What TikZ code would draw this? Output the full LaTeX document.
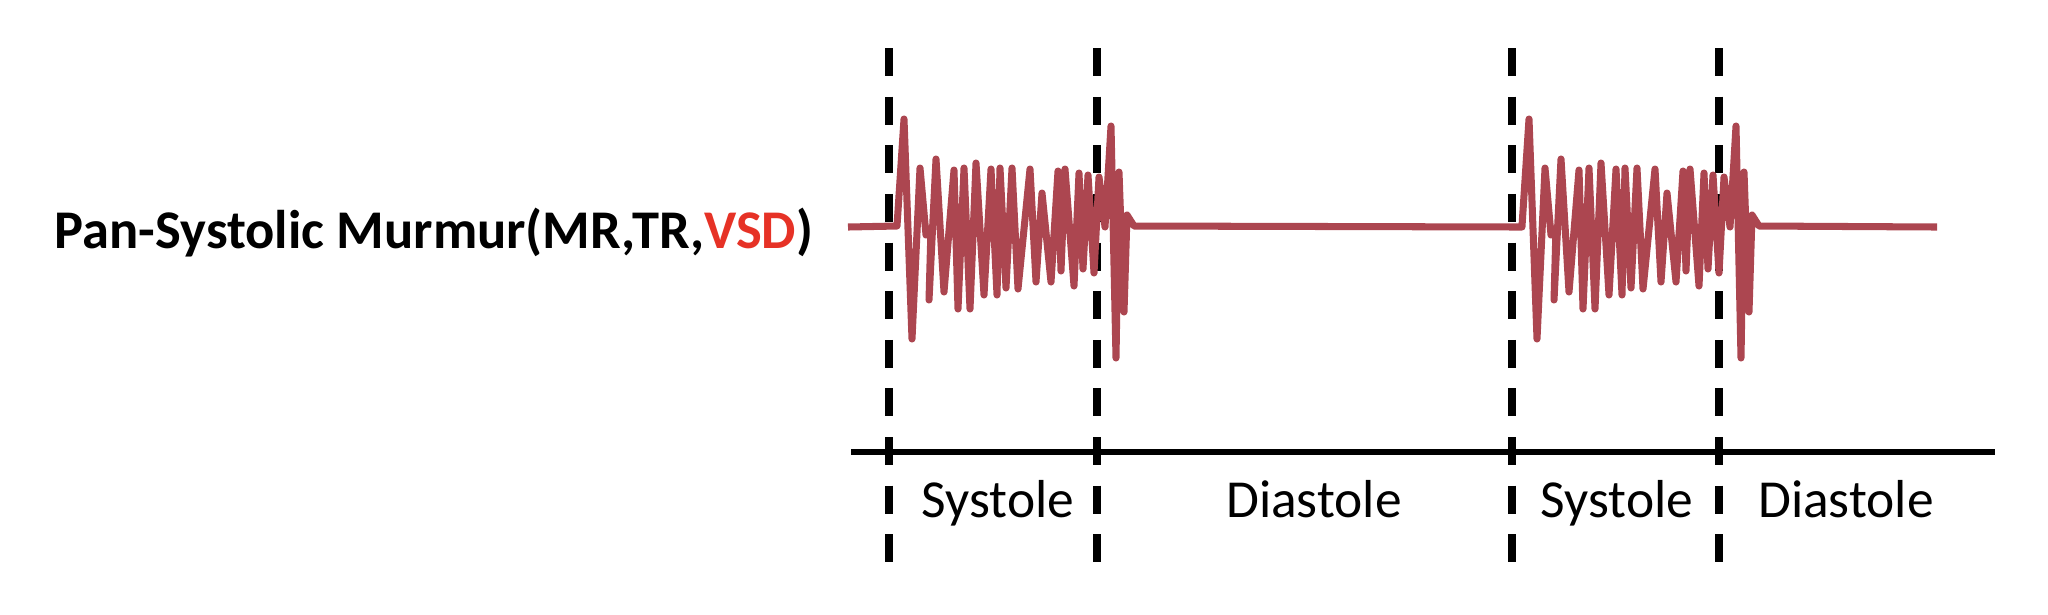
\documentclass[tikz,border=0pt]{standalone}
\usepackage{fontspec}
\setmainfont{Carlito}
\usepackage{xcolor}
\usepackage{tikz}
\usetikzlibrary{positioning}

\definecolor{murmurred}{RGB}{172,70,80}
\definecolor{vsdred}{RGB}{230,50,38}

\tikzset{
  phaseline/.style={line width=2.1pt, dash pattern=on 7.97pt off 5.86pt},
  timeaxis/.style={line width=1.6pt},
  murmur/.style={murmurred, line width=2pt, line join=round},
  lbl/.style={font=\fontsize{15.2}{18}\selectfont, inner sep=0pt, anchor=base}
}

% one systolic burst, #1 = horizontal offset in px
\newcommand{\murmurburst}[1]{%
  -- ({#1+897},226) -- ({#1+904},119) -- ({#1+912},339) -- ({#1+920},168)
  -- ({#1+926},235) -- ({#1+931},228) -- ({#1+929},300) -- ({#1+936},159)
  -- ({#1+944},292) -- ({#1+954},170) -- ({#1+958},309) -- ({#1+964},168)
  -- ({#1+970},309) -- ({#1+976},163) -- ({#1+984},295) -- ({#1+991},169)
  -- ({#1+997},295) -- ({#1+1000},168) -- ({#1+1006},288) -- ({#1+1012},168)
  -- ({#1+1018},289) -- ({#1+1030},169) -- ({#1+1036},282) -- ({#1+1042},193)
  -- ({#1+1051},282) -- ({#1+1058},171) -- ({#1+1061},271) -- ({#1+1065},169)
  -- ({#1+1074},286) -- ({#1+1079},173) -- ({#1+1083},269) -- ({#1+1088},175)
  -- ({#1+1094},273) -- ({#1+1099},177) -- ({#1+1105},227) -- ({#1+1111},126)
  -- ({#1+1116},358) -- ({#1+1119},172) -- ({#1+1124},312) -- ({#1+1127},215)
  -- ({#1+1134},226)}

\begin{document}
\begin{tikzpicture}[x=0.01cm, y=-0.01cm]
    \useasboundingbox (0,0) rectangle (2048,614);

    % title
    \node[lbl, anchor=base west, font=\fontsize{15.5}{18}\selectfont\bfseries] (title) at (54,248)
      {Pan-Systolic Murmur(MR,TR,\textcolor{vsdred}{VSD})};

    % phase borders
    \coordinate (s1top) at (889,48);
    \coordinate (s1bot) at (889,562);
    \coordinate (d1top) at (1097,48);
    \coordinate (d1bot) at (1097,562);
    \coordinate (s2top) at (1512,48);
    \coordinate (s2bot) at (1512,562);
    \coordinate (d2top) at (1719,48);
    \coordinate (d2bot) at (1719,562);
    \draw[phaseline] (s1top) -- (s1bot);
    \draw[phaseline] (d1top) -- (d1bot);
    \draw[phaseline] (s2top) -- (s2bot);
    \draw[phaseline] (d2top) -- (d2bot);

    % time axis
    \coordinate (axl) at (851,452);
    \coordinate (axr) at (1995,452);
    \draw[timeaxis] (axl) -- (axr);

    % phase labels
    \node[lbl] (sys1) at (998,517) {Systole};
    \node[lbl] (dia1) at (1314,517) {Diastole};
    \node[lbl] (sys2) at (1617,517) {Systole};
    \node[lbl] (dia2) at (1846,517) {Diastole};

    % murmur trace
    \coordinate (wstart) at (848,227);
    \coordinate (wend) at (1937,227);
    \draw[murmur] (wstart) \murmurburst{0} -- (1522,227) \murmurburst{625} -- (wend);
  \end{tikzpicture}
\end{document}
